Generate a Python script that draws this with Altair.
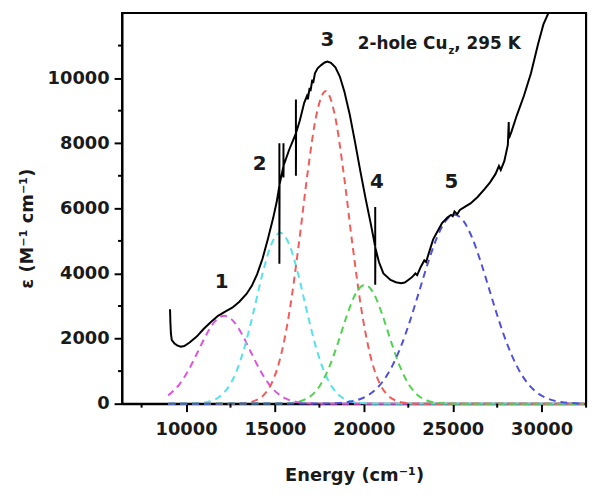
import altair as alt
import pandas as pd

exp_x = [9100, 9120, 9150, 9200, 9350, 9500, 9700, 9900, 10200, 10600, 11000, 11400, 11800,
         12200, 12600, 13000, 13400, 13700, 14000, 14300, 14600, 14900, 15100,
         15250, 15250, 15250, 15260, 15480, 15480, 15480, 15490, 15800,
         16180, 16180, 16180, 16190, 16400, 16650, 16800, 16850, 16950, 17000, 17100, 17150,
         17250, 17400, 17600, 17800, 17950, 18150, 18400, 18650, 18900, 19200, 19500, 19800,
         20100, 20400, 20640, 20640, 20640, 20650, 20850, 21100, 21500, 21800, 22100, 22300,
         22500, 22700, 22900, 23000, 23200, 23400, 23500, 23700, 23900, 24100, 24400, 24700,
         24900, 25000, 25100, 25250, 25400, 25700, 26000, 26400, 26800, 27100, 27400, 27600,
         27700, 27900, 28100, 28150, 28160, 28300, 28600, 29000, 29400, 29800, 30100, 30380]
exp_y = [2900, 2500, 2150, 1950, 1850, 1790, 1750, 1770, 1880, 2060, 2300, 2510, 2700,
         2830, 2950, 3130, 3370, 3620, 3980, 4450, 5050, 5700, 6200,
         6700, 8000, 4300, 6730, 7300, 8000, 6950, 7320, 7800,
         8300, 9340, 7000, 8320, 8700, 9250, 9450, 9350, 9700, 9600, 9950, 9850,
         10150, 10300, 10400, 10480, 10510, 10470, 10330, 10050, 9600, 8900, 8050, 7150,
         6300, 5500, 4820, 6040, 3650, 4780, 4350, 4000, 3800, 3730, 3700, 3720,
         3800, 3880, 4000, 3950, 4200, 4400, 4350, 4700, 5050, 5250, 5550, 5720,
         5800, 5760, 5900, 5820, 5950, 6050, 6150, 6350, 6600, 6800, 7050, 7300,
         7180, 7450, 7950, 8650, 8150, 8350, 8850, 9450, 10150, 11050, 11650, 12000]

# ---- fitted bands (dashed) ----
b1_x = [9000, 9650, 10150, 10650, 11150, 11650, 12150, 12650, 13150, 13650, 14150, 14650,
        15150, 15650, 16150, 16650, 17500, 32400]
b1_y = [255, 611, 1043, 1581, 2128, 2545, 2700, 2545, 2128, 1581, 1043, 611,
        318, 146, 60, 22, 0, 0]

b2_x = [9000, 10800, 11300, 11800, 12300, 12800, 13300, 13800, 14300, 14800, 15300, 15800,
        16300, 16800, 17300, 17800, 18300, 18800, 19300, 19800, 20500, 32400]
b2_y = [0, 20, 65, 182, 445, 945, 1752, 2832, 3990, 4900, 5250, 4900,
        3990, 2832, 1752, 945, 445, 182, 65, 20, 0, 0]

b3_x = [9000, 12850, 13350, 13850, 14350, 14850, 15350, 15850, 16350, 16850, 17350, 17850,
        18350, 18850, 19350, 19850, 20350, 20850, 21350, 21850, 22350, 23000, 32400]
b3_y = [0, 0, 24, 85, 256, 669, 1511, 2940, 4933, 7141, 8915, 9600,
        8915, 7141, 4933, 2940, 1511, 669, 256, 85, 24, 0, 0]

b4_x = [9000, 15550, 16050, 16550, 17050, 17550, 18050, 18550, 19050, 19550, 20050, 20550,
        21050, 21550, 22050, 22550, 23050, 23550, 24050, 24550, 25200, 32400]
b4_y = [0, 9, 32, 97, 254, 573, 1117, 1876, 2715, 3390, 3650, 3390,
        2715, 1876, 1117, 573, 254, 97, 32, 9, 0, 0]

b5_x = [9000, 18100, 18600, 19100, 19600, 20100, 20600, 21100, 21600, 22100, 22600, 23100,
        23600, 24100, 24600, 25100, 25600, 26100, 26600, 27100, 27600, 28100, 28600, 29100,
        29600, 30100, 30600, 31100, 31600, 32100, 32400]
b5_y = [0, 9, 22, 51, 108, 217, 404, 707, 1160, 1777, 2550, 3428,
        4314, 5085, 5612, 5800, 5612, 5085, 4314, 3428, 2550, 1777, 1160, 707,
        404, 217, 108, 51, 22, 9, 0]

band_names = ["1", "2", "3", "4", "5"]
band_colors = ["#de55de", "#55e2e8", "#f05c5c", "#4fd34f", "#5050de"]

# ---- peak labels ----
lab_text = ["1", "2", "3", "4", "5"]
lab_x = [12000, 14140, 17950, 20740, 24920]
lab_y = [3750, 7360, 11170, 6800, 6800]

x_major = [10000, 15000, 20000, 25000, 30000]
x_minor = [7500, 12500, 17500, 22500, 27500, 32500]
y_major = [0, 2000, 4000, 6000, 8000, 10000]
y_minor = [1000, 3000, 5000, 7000, 9000, 11000]

FONT = "DejaVu Sans"
W, H = 468, 394

exp_df = pd.DataFrame({"x": exp_x, "y": exp_y, "i": list(range(len(exp_x)))})
rows = []
for name, xs, ys in zip(band_names, [b1_x, b2_x, b3_x, b4_x, b5_x], [b1_y, b2_y, b3_y, b4_y, b5_y]):
    for j, (a, b) in enumerate(zip(xs, ys)):
        rows.append({"band": name, "x": a, "y": b, "i": j})
band_df = pd.DataFrame(rows)
lab_df = pd.DataFrame({"t": lab_text, "x": lab_x, "y": lab_y})

xscale = alt.Scale(domain=[6400, 32500], nice=False, zero=False)
yscale = alt.Scale(domain=[0, 12000], nice=False)

xaxis = alt.Axis(
    values=x_major, format="d", tickSize=8,
    title="Energy (cm⁻¹)", titleY=77, titleBaseline="alphabetic",
    labelOverlap=False, labelFlush=False, labelPadding=9,
)
yaxis = alt.Axis(
    values=y_major, format="d", tickSize=8,
    title="ε (M⁻¹ cm⁻¹)", titleX=-95, titleY=217, titleBaseline="middle", titleAngle=-90,
    labelOverlap=False, labelFlush=False, labelPadding=5,
)

bands = alt.Chart(band_df).mark_line(strokeWidth=2, strokeDash=[7, 5], interpolate="monotone").encode(
    x=alt.X("x:Q", scale=xscale, axis=xaxis),
    y=alt.Y("y:Q", scale=yscale, axis=yaxis),
    color=alt.Color("band:N", scale=alt.Scale(domain=band_names, range=band_colors), legend=None),
    order=alt.Order("i:Q"),
)

curve = alt.Chart(exp_df).mark_line(color="black", strokeWidth=2, clip=True).encode(
    x="x:Q", y="y:Q", order=alt.Order("i:Q"),
)

# minor ticks (outside the plot area)
xmin_df = pd.DataFrame({"x": x_minor})
ymin_df = pd.DataFrame({"y": y_minor})
xminor = alt.Chart(xmin_df).mark_rule(color="black", strokeWidth=2).encode(
    x="x:Q", y=alt.value(H), y2=alt.value(H + 4))
yminor = alt.Chart(ymin_df).mark_rule(color="black", strokeWidth=2).encode(
    y="y:Q", x=alt.value(0), x2=alt.value(-4))

# right frame edge
right_edge = alt.Chart(pd.DataFrame({"k": [0]})).mark_rule(color="black", strokeWidth=2).encode(
    x=alt.value(W), y=alt.value(0), y2=alt.value(H))

labels = alt.Chart(lab_df).mark_text(font=FONT, fontSize=20, fontWeight="bold", color="#1a1a1a",
                                     baseline="middle", align="center").encode(
    x="x:Q", y="y:Q", text="t:N",
)

ann_df = pd.DataFrame({"x": [24700], "y": [10905]})
ann1 = alt.Chart(ann_df).mark_text(font=FONT, fontSize=17, fontWeight="bold", color="#1a1a1a",
                                   align="right", baseline="alphabetic").encode(
    x="x:Q", y="y:Q", text=alt.value("2-hole Cu"))
ann2 = alt.Chart(ann_df).mark_text(font=FONT, fontSize=10, fontWeight="bold", color="#1a1a1a",
                                   align="left", baseline="alphabetic", dx=1, dy=5).encode(
    x="x:Q", y="y:Q", text=alt.value("z"))
ann3 = alt.Chart(ann_df).mark_text(font=FONT, fontSize=17, fontWeight="bold", color="#1a1a1a",
                                   align="left", baseline="alphabetic", dx=7).encode(
    x="x:Q", y="y:Q", text=alt.value(", 295 K"))

chart = alt.layer(bands, curve, xminor, yminor, right_edge, labels, ann1, ann2, ann3).properties(
    width=W, height=H,
    autosize=alt.AutoSizeParams(type="none"),
    padding={"left": 115, "top": 3, "right": 10, "bottom": 85},
    background="white",
).configure_view(stroke="black", strokeWidth=2).configure_axis(
    grid=False,
    domainColor="black", domainWidth=2,
    tickColor="black", tickWidth=2,
    labelFont=FONT, labelFontSize=18, labelFontWeight="bold", labelColor="#1a1a1a",
    titleFont=FONT, titleFontSize=18, titleFontWeight="bold", titleColor="#1a1a1a",
)

chart.save("out.html", embed_options={"renderer": "svg", "actions": False})
